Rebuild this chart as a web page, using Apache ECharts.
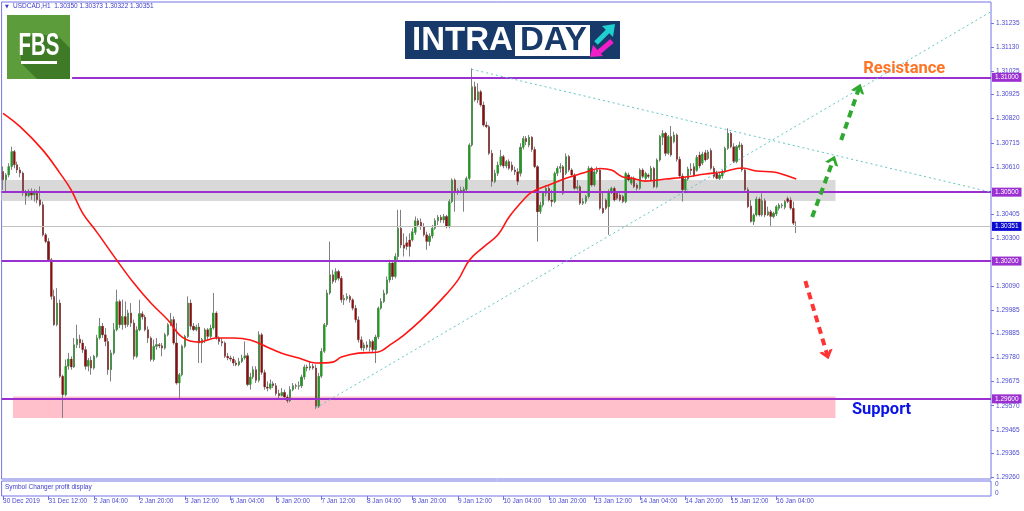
<!DOCTYPE html>
<html><head><meta charset="utf-8">
<script src="https://cdn.jsdelivr.net/npm/echarts@6/dist/echarts.min.js"></script>
<style>html,body{margin:0;padding:0;background:#fff}#c{width:1024px;height:511px}</style>
</head><body><div id="c"></div>
<script>
// ---------- data ----------
const tickLabels = ['30 Dec 2019','31 Dec 12:00','2 Jan 04:00','2 Jan 20:00','3 Jan 12:00','6 Jan 04:00','6 Jan 20:00','7 Jan 12:00','8 Jan 04:00','8 Jan 20:00','9 Jan 12:00','10 Jan 04:00','10 Jan 20:00','13 Jan 12:00','14 Jan 04:00','14 Jan 20:00','15 Jan 12:00','16 Jan 04:00'];
const barsPerLabel = 16;
const slotCount = 348;
const yTicks = [1.29260,1.29365,1.29465,1.29570,1.29675,1.29780,1.29885,1.29985,1.30090,1.30300,1.30405,1.30610,1.30715,1.30820,1.30925,1.31025,1.31130,1.31235];
const header = 'USDCAD,H1  1.30350 1.30373 1.30322 1.30351';
// [open, close, low, high]
const candles = [
[1.30590,1.30554,1.30510,1.30612],[1.30554,1.30575,1.30496,1.30583],[1.30575,1.30612,1.30565,1.30626],[1.30612,1.30677,1.30597,1.30698],
[1.30677,1.30619,1.30604,1.30684],[1.30619,1.30597,1.30583,1.30633],[1.30597,1.30583,1.30565,1.30609],[1.30583,1.30496,1.30484,1.30590],
[1.30496,1.30484,1.30445,1.30510],[1.30484,1.30503,1.30478,1.30513],[1.30503,1.30488,1.30467,1.30517],[1.30488,1.30503,1.30459,1.30513],
[1.30503,1.30467,1.30452,1.30510],[1.30467,1.30445,1.30438,1.30525],[1.30445,1.30314,1.30307,1.30459],[1.30314,1.30285,1.30278,1.30322],
[1.30285,1.30206,1.30203,1.30300],[1.30206,1.30046,1.30032,1.30213],[1.30046,1.29923,1.29918,1.30075],[1.29923,1.30017,1.29916,1.30082],
[1.30017,1.29698,1.29691,1.30032],[1.29698,1.29618,1.29517,1.29705],[1.29618,1.29742,1.29611,1.29771],[1.29742,1.29773,1.29727,1.29800],
[1.29773,1.29739,1.29727,1.29785],[1.29739,1.29836,1.29734,1.29865],[1.29836,1.29860,1.29821,1.29923],[1.29860,1.29843,1.29821,1.29879],
[1.29843,1.29814,1.29800,1.29858],[1.29814,1.29742,1.29727,1.29829],[1.29742,1.29768,1.29720,1.29778],[1.29768,1.29734,1.29705,1.29785],
[1.29734,1.29785,1.29727,1.29792],[1.29785,1.29865,1.29778,1.29879],[1.29865,1.29916,1.29858,1.29952],[1.29916,1.29879,1.29865,1.29930],
[1.29879,1.29850,1.29829,1.29908],[1.29850,1.29727,1.29705,1.29865],[1.29727,1.29800,1.29676,1.29814],[1.29800,1.29901,1.29792,1.29930],
[1.29901,1.30024,1.29894,1.30075],[1.30024,1.29923,1.29908,1.30032],[1.29923,1.29959,1.29901,1.30032],[1.29959,1.29923,1.29908,1.30024],
[1.29923,1.29974,1.29913,1.29988],[1.29974,1.29930,1.29913,1.30017],[1.29930,1.29785,1.29771,1.29945],[1.29785,1.29901,1.29778,1.29916],
[1.29901,1.29971,1.29894,1.30032],[1.29971,1.29956,1.29945,1.29981],[1.29956,1.29901,1.29894,1.29966],[1.29901,1.29865,1.29843,1.29916],
[1.29865,1.29771,1.29763,1.29872],[1.29771,1.29829,1.29763,1.29858],[1.29829,1.29836,1.29814,1.29865],[1.29836,1.29831,1.29821,1.29843],
[1.29831,1.29821,1.29785,1.29843],[1.29821,1.29879,1.29814,1.29887],[1.29879,1.29923,1.29872,1.29930],[1.29923,1.29945,1.29916,1.29974],
[1.29945,1.29843,1.29836,1.29959],[1.29843,1.29669,1.29662,1.29930],[1.29669,1.29705,1.29604,1.29713],[1.29705,1.29829,1.29698,1.29836],
[1.29829,1.29872,1.29821,1.29879],[1.29872,1.30017,1.29865,1.30046],[1.30017,1.29916,1.29901,1.30032],[1.29916,1.29901,1.29894,1.29930],
[1.29901,1.29913,1.29894,1.29923],[1.29913,1.29843,1.29756,1.29930],[1.29843,1.29858,1.29756,1.29865],[1.29858,1.29901,1.29843,1.29908],
[1.29901,1.29872,1.29858,1.29908],[1.29872,1.29908,1.29865,1.29923],[1.29908,1.29974,1.29901,1.30061],[1.29974,1.29865,1.29858,1.29981],
[1.29865,1.29850,1.29836,1.29872],[1.29850,1.29843,1.29829,1.29865],[1.29843,1.29785,1.29778,1.29850],[1.29785,1.29778,1.29768,1.29800],
[1.29778,1.29773,1.29763,1.29788],[1.29773,1.29756,1.29744,1.29785],[1.29756,1.29749,1.29742,1.29768],[1.29749,1.29763,1.29742,1.29778],
[1.29763,1.29778,1.29756,1.29792],[1.29778,1.29788,1.29771,1.29850],[1.29788,1.29662,1.29655,1.29800],[1.29662,1.29695,1.29640,1.29713],
[1.29695,1.29727,1.29686,1.29742],[1.29727,1.29681,1.29669,1.29742],[1.29681,1.29879,1.29672,1.29894],[1.29879,1.29715,1.29705,1.29887],
[1.29715,1.29652,1.29640,1.29727],[1.29652,1.29646,1.29633,1.29676],[1.29646,1.29666,1.29640,1.29684],[1.29666,1.29657,1.29647,1.29676],
[1.29657,1.29623,1.29614,1.29669],[1.29623,1.29614,1.29599,1.29640],[1.29614,1.29628,1.29611,1.29647],[1.29628,1.29608,1.29597,1.29640],
[1.29608,1.29592,1.29582,1.29618],[1.29592,1.29640,1.29585,1.29655],[1.29640,1.29657,1.29633,1.29669],[1.29657,1.29655,1.29643,1.29666],
[1.29655,1.29657,1.29640,1.29676],[1.29657,1.29695,1.29647,1.29705],[1.29695,1.29739,1.29684,1.29749],[1.29739,1.29734,1.29720,1.29749],
[1.29734,1.29742,1.29724,1.29763],[1.29742,1.29734,1.29727,1.29753],[1.29734,1.29568,1.29556,1.29749],[1.29568,1.29698,1.29560,1.29713],
[1.29698,1.29807,1.29691,1.29821],[1.29807,1.29923,1.29800,1.29930],[1.29923,1.30061,1.29913,1.30075],[1.30061,1.30140,1.30053,1.30285],
[1.30140,1.30111,1.30101,1.30162],[1.30118,1.30154,1.30106,1.30169],[1.30154,1.30125,1.30115,1.30162],[1.30125,1.30031,1.30019,1.30135],
[1.30031,1.30037,1.30009,1.30053],[1.30037,1.30046,1.30028,1.30060],[1.30046,1.30031,1.30019,1.30053],[1.30031,1.29995,1.29985,1.30038],
[1.29995,1.29944,1.29932,1.30009],[1.29944,1.29857,1.29845,1.29959],[1.29857,1.29821,1.29811,1.29872],[1.29821,1.29835,1.29806,1.29845],
[1.29835,1.29825,1.29814,1.29850],[1.29825,1.29850,1.29806,1.29860],[1.29850,1.29814,1.29799,1.29857],[1.29814,1.29869,1.29756,1.29879],
[1.29869,1.29995,1.29860,1.30002],[1.29995,1.30024,1.29988,1.30038],[1.30024,1.30060,1.30017,1.30075],[1.30060,1.30118,1.30053,1.30133],
[1.30118,1.30191,1.30106,1.30205],[1.30191,1.30133,1.30118,1.30205],[1.30133,1.30220,1.30125,1.30234],[1.30220,1.30343,1.30205,1.30423],
[1.30343,1.30270,1.30256,1.30423],[1.30270,1.30256,1.30220,1.30321],[1.30280,1.30263,1.30249,1.30307],[1.30292,1.30263,1.30220,1.30321],
[1.30292,1.30328,1.30285,1.30343],[1.30324,1.30376,1.30314,1.30394],[1.30376,1.30357,1.30350,1.30386],[1.30369,1.30350,1.30336,1.30386],
[1.30350,1.30314,1.30307,1.30365],[1.30314,1.30285,1.30249,1.30328],[1.30285,1.30309,1.30266,1.30321],[1.30309,1.30343,1.30299,1.30357],
[1.30343,1.30376,1.30336,1.30386],[1.30376,1.30391,1.30357,1.30401],[1.30391,1.30379,1.30367,1.30401],[1.30379,1.30394,1.30365,1.30405],
[1.30394,1.30350,1.30343,1.30401],[1.30350,1.30459,1.30343,1.30469],[1.30459,1.30553,1.30452,1.30560],[1.30553,1.30502,1.30415,1.30560],
[1.30502,1.30507,1.30488,1.30517],[1.30507,1.30502,1.30495,1.30524],[1.30502,1.30512,1.30415,1.30524],[1.30512,1.30560,1.30502,1.30568],
[1.30560,1.30705,1.30553,1.30713],[1.30705,1.30959,1.30698,1.31039],[1.30959,1.30901,1.30894,1.30981],[1.30901,1.30937,1.30887,1.30974],
[1.30937,1.30879,1.30872,1.30945],[1.30879,1.30792,1.30785,1.30894],[1.30792,1.30785,1.30778,1.30807],[1.30785,1.30669,1.30662,1.30792],
[1.30669,1.30546,1.30524,1.30684],[1.30546,1.30582,1.30539,1.30597],[1.30582,1.30618,1.30570,1.30633],[1.30618,1.30655,1.30611,1.30684],
[1.30655,1.30614,1.30604,1.30662],[1.30614,1.30633,1.30604,1.30640],[1.30633,1.30604,1.30597,1.30643],[1.30618,1.30597,1.30589,1.30633],
[1.30597,1.30589,1.30575,1.30611],[1.30589,1.30546,1.30531,1.30604],[1.30582,1.30695,1.30568,1.30713],[1.30695,1.30734,1.30686,1.30744],
[1.30734,1.30720,1.30705,1.30744],[1.30705,1.30739,1.30695,1.30749],[1.30739,1.30686,1.30676,1.30744],[1.30686,1.30611,1.30604,1.30698],
[1.30611,1.30415,1.30285,1.30618],[1.30415,1.30444,1.30405,1.30459],[1.30444,1.30495,1.30434,1.30502],[1.30495,1.30517,1.30481,1.30531],
[1.30517,1.30466,1.30459,1.30527],[1.30466,1.30459,1.30437,1.30510],[1.30459,1.30582,1.30452,1.30589],[1.30582,1.30604,1.30570,1.30614],
[1.30604,1.30611,1.30585,1.30626],[1.30611,1.30495,1.30488,1.30618],[1.30582,1.30655,1.30575,1.30669],[1.30655,1.30597,1.30589,1.30662],
[1.30597,1.30575,1.30565,1.30604],[1.30575,1.30517,1.30510,1.30582],[1.30517,1.30524,1.30507,1.30553],[1.30524,1.30452,1.30444,1.30531],
[1.30452,1.30459,1.30444,1.30473],[1.30459,1.30481,1.30449,1.30488],[1.30481,1.30604,1.30473,1.30614],[1.30604,1.30531,1.30524,1.30611],
[1.30531,1.30589,1.30524,1.30597],[1.30589,1.30597,1.30579,1.30611],[1.30597,1.30430,1.30423,1.30604],[1.30430,1.30411,1.30405,1.30502],
[1.30466,1.30430,1.30423,1.30473],[1.30437,1.30502,1.30314,1.30512],[1.30502,1.30517,1.30492,1.30524],[1.30517,1.30466,1.30459,1.30524],
[1.30495,1.30473,1.30466,1.30502],[1.30488,1.30466,1.30459,1.30495],[1.30481,1.30459,1.30452,1.30488],[1.30459,1.30582,1.30452,1.30589],
[1.30575,1.30553,1.30546,1.30585],[1.30539,1.30560,1.30531,1.30568],[1.30560,1.30524,1.30517,1.30568],[1.30531,1.30517,1.30507,1.30539],
[1.30517,1.30597,1.30510,1.30604],[1.30597,1.30568,1.30560,1.30604],[1.30560,1.30582,1.30553,1.30589],[1.30575,1.30568,1.30560,1.30582],
[1.30553,1.30604,1.30546,1.30614],[1.30604,1.30524,1.30517,1.30611],[1.30524,1.30640,1.30517,1.30647],[1.30640,1.30742,1.30633,1.30749],
[1.30739,1.30756,1.30705,1.30771],[1.30756,1.30669,1.30657,1.30763],[1.30669,1.30742,1.30662,1.30749],[1.30742,1.30662,1.30655,1.30788],
[1.30720,1.30749,1.30713,1.30763],[1.30749,1.30643,1.30633,1.30756],[1.30643,1.30570,1.30560,1.30655],[1.30570,1.30510,1.30459,1.30582],
[1.30510,1.30557,1.30495,1.30568],[1.30557,1.30601,1.30550,1.30611],[1.30601,1.30594,1.30575,1.30626],[1.30611,1.30575,1.30568,1.30626],
[1.30594,1.30652,1.30589,1.30662],[1.30662,1.30614,1.30604,1.30676],[1.30626,1.30666,1.30618,1.30676],[1.30672,1.30640,1.30633,1.30684],
[1.30647,1.30675,1.30640,1.30684],[1.30681,1.30604,1.30597,1.30691],[1.30604,1.30568,1.30560,1.30614],[1.30585,1.30560,1.30556,1.30594],
[1.30560,1.30575,1.30553,1.30585],[1.30570,1.30589,1.30560,1.30597],[1.30589,1.30691,1.30582,1.30698],[1.30691,1.30756,1.30684,1.30778],
[1.30756,1.30698,1.30691,1.30763],[1.30698,1.30633,1.30626,1.30713],[1.30633,1.30698,1.30626,1.30705],[1.30695,1.30705,1.30684,1.30720],
[1.30705,1.30597,1.30589,1.30713],[1.30597,1.30510,1.30502,1.30604],[1.30510,1.30437,1.30430,1.30521],[1.30440,1.30372,1.30367,1.30466],
[1.30372,1.30401,1.30357,1.30408],[1.30401,1.30470,1.30394,1.30481],[1.30470,1.30401,1.30394,1.30478],[1.30401,1.30463,1.30394,1.30495],
[1.30463,1.30401,1.30391,1.30473],[1.30401,1.30415,1.30396,1.30437],[1.30415,1.30394,1.30353,1.30423],[1.30394,1.30408,1.30386,1.30415],
[1.30405,1.30437,1.30396,1.30444],[1.30430,1.30444,1.30420,1.30452],[1.30440,1.30443,1.30430,1.30452],[1.30434,1.30459,1.30425,1.30466],
[1.30472,1.30459,1.30452,1.30481],[1.30466,1.30430,1.30423,1.30478],[1.30430,1.30365,1.30357,1.30459],[1.30350,1.30351,1.30322,1.30373]
];
// moving average read at bar positions: [bar index, price]
const maPoints = [[0,1.30843],[6,1.30785],[14,1.30683],[20,1.30583],[24,1.30509],[28,1.30409],[33,1.30326],[40,1.30204],[46,1.30104],[52,1.30017],[58,1.29943],[63,1.29869],[69,1.29847],[75,1.29865],[81,1.29865],[87,1.29856],[93,1.29825],[98,1.29799],[104,1.29778],[110,1.29756],[116,1.29760],[119,1.29782],[125,1.29799],[132,1.29804],[136,1.29834],[141,1.29878],[147,1.29943],[154,1.30030],[160,1.30117],[164,1.30204],[169,1.30261],[174,1.30313],[178,1.30392],[183,1.30466],[186,1.30500],[192,1.30531],[198,1.30561],[204,1.30583],[210,1.30603],[214,1.30596],[218,1.30566],[221,1.30561],[226,1.30548],[233,1.30557],[240,1.30566],[247,1.30579],[253,1.30588],[260,1.30605],[265,1.30592],[271,1.30588],[275,1.30575],[279,1.30557]];
const resistanceLevel = 1.31000, pivotLevel = 1.30500, midLevel = 1.30200, supportLevel = 1.29600, lastPrice = 1.30351;
const grayZone = [1.30461, 1.30553];
const supportZone = [1.29517, 1.29610];
const trendDown = [[164.8, 1.31035], [347.5, 1.30500]];
const trendUp = [[110, 1.29560], [347.5, 1.31286]];
const arrowUp1 = [[284.6, 1.30392], [292.0, 1.30640]];
const arrowUp2 = [[294.8, 1.30727], [301.1, 1.30953]];
const arrowDown = [[282.2, 1.30113], [289.9, 1.29791]];
const textMarks = [{name:'Resistance', at:[317, 1.31036]}, {name:'Support', at:[309, 1.29551]}];

// ---------- chart ----------
const FONT = '"Liberation Sans", Arial, sans-serif';
const AXC = '#4a4ad0';
const BORDER = '#7474e6';
const PURPLE = '#9b30d0';
const categories = Array.from({length: slotCount}, (_, i) => String(i));
const isTick = (i) => i % barsPerLabel === 0 && (i / barsPerLabel) < tickLabels.length;
const CHEVRON = 'path://M0,10 L10,0 L20,10 L15,10 L10,5 L5,10 Z';
const xLeft = -0.5, xRight = slotCount - 0.5;

function levelLabel(text, bg) {
  return {show:true, position:'end', distance:1, formatter:text, color:'#ffffff', backgroundColor:bg,
          padding:[1,3,1,3], fontSize:6.5, fontFamily:FONT};
}
function hLine(value, from, label, lineStyle) {
  return [{coord:[from, value], label:label, lineStyle:lineStyle}, {coord:[xRight, value]}];
}
function arrowSeries(pts, color, rot) {
  return {type:'line', xAxisIndex:1, yAxisIndex:0, z:8, silent:true, showSymbol:true,
    lineStyle:{color:color, width:4, type:[7,5]}, itemStyle:{color:color},
    data:[{value:pts[0], symbol:'none'}, {value:pts[1], symbol:CHEVRON, symbolSize:[14,9], symbolRotate:rot}]};
}
const textStyleFor = (color) => ({show:true, position:'inside', color:color, fontSize:16.5, fontWeight:'bold',
  fontFamily:'Roboto, "Liberation Sans", sans-serif'});
const purpleStyle = {color:PURPLE, width:2, type:'solid'};

const chart = echarts.init(document.getElementById('c'));
chart.setOption({
  animation:false,
  backgroundColor:'#ffffff',
  grid:[
    {left:1.6, right:33, top:2, bottom:32, show:true, borderColor:BORDER, borderWidth:1},
    {left:1.6, right:33, top:481, height:15, show:true, borderColor:BORDER, borderWidth:1}
  ],
  xAxis:[
    {type:'category', gridIndex:0, data:categories, boundaryGap:true, axisLine:{show:false, onZero:false}, axisTick:{show:false}, axisLabel:{show:false}, splitLine:{show:false}},
    {type:'value', gridIndex:0, min:xLeft, max:xRight, show:false, axisLine:{onZero:false}},
    {type:'category', gridIndex:1, data:categories, boundaryGap:true, position:'bottom',
     axisLine:{show:false, onZero:false}, splitLine:{show:false},
     axisTick:{show:true, alignWithLabel:true, interval:isTick, length:4, lineStyle:{color:BORDER}},
     axisLabel:{interval:isTick, formatter:(v)=>tickLabels[Number(v)/barsPerLabel] || '', align:'left', margin:2,
                fontSize:6.5, color:AXC, fontFamily:FONT}}
  ],
  yAxis:[
    {type:'value', gridIndex:0, position:'right', min:1.29251, max:1.31328, splitLine:{show:false},
     axisLine:{show:false, onZero:false},
     axisTick:{show:true, inside:false, customValues:yTicks, length:3, lineStyle:{color:BORDER}},
     axisLabel:{customValues:yTicks, formatter:(v)=>v.toFixed(5), margin:5, fontSize:6.5, color:AXC, fontFamily:FONT}},
    {type:'value', gridIndex:1, position:'right', min:0, max:1, splitLine:{show:false}, axisLine:{show:false, onZero:false}, axisTick:{show:false},
     axisLabel:{customValues:[0.2,0.8], formatter:()=> '0', margin:4, fontSize:6.5, color:AXC, fontFamily:FONT, hideOverlap:false}}
  ],
  series:[
    {type:'line', xAxisIndex:1, yAxisIndex:0, data:[], z:1, silent:true, clip:false,
     markArea:{silent:true, itemStyle:{opacity:1},
       data:[
         [{coord:[xLeft, grayZone[1]], itemStyle:{color:'#d9d9d9'}}, {coord:[292.8, grayZone[0]]}],
         [{coord:[3.5, supportZone[1]], itemStyle:{color:'#ffc0cb'}}, {coord:[292.8, supportZone[0]]}]
       ]},
     markLine:{silent:true, symbol:'none', animation:false,
       data:[hLine(lastPrice, xLeft, levelLabel(lastPrice.toFixed(5), '#0a0ad0'), {color:'#c0c0c0', width:1, type:'solid'})]}
    },
    {type:'candlestick', name:'wick', xAxisIndex:0, yAxisIndex:0, data:candles, barWidth:1.6, z:3, silent:true,
     itemStyle:{color:'#808080', color0:'#808080', borderColor:'#808080', borderColor0:'#808080', borderColorDoji:'#808080', borderWidth:1}},
    {type:'candlestick', name:'body', xAxisIndex:0, yAxisIndex:0, data:candles, barWidth:2, z:4, silent:true,
     itemStyle:{color:'#1c9c1c', color0:'#900c0c', borderColor:'#1c9c1c', borderColor0:'#900c0c', borderWidth:0}},
    {type:'line', name:'MA', xAxisIndex:1, yAxisIndex:0, data:maPoints, smooth:0.4, showSymbol:false, z:5, silent:true,
     lineStyle:{color:'#ff1414', width:1.6}},
    {type:'line', xAxisIndex:1, yAxisIndex:0, data:trendDown, showSymbol:false, z:5, silent:true,
     lineStyle:{color:'#64c4c4', width:1, type:[2,3]},
     markPoint:{silent:true, symbol:'circle', symbolSize:1, itemStyle:{color:'rgba(255,255,255,0)', opacity:1},
       data:[
         {coord:textMarks[0].at, label:Object.assign(textStyleFor('#ff7424'), {formatter:textMarks[0].name})},
         {coord:textMarks[1].at, label:Object.assign(textStyleFor('#0a14e6'), {formatter:textMarks[1].name})}
       ]}},
    {type:'line', xAxisIndex:1, yAxisIndex:0, data:trendUp, showSymbol:false, z:5, silent:true,
     lineStyle:{color:'#64c4c4', width:1, type:[2,3]}},
    {type:'line', xAxisIndex:1, yAxisIndex:0, data:[], z:6, silent:true, clip:false,
     markLine:{silent:true, symbol:'none', animation:false, lineStyle:purpleStyle,
       data:[
         hLine(resistanceLevel, 24.3, levelLabel(resistanceLevel.toFixed(5), PURPLE), purpleStyle),
         hLine(pivotLevel, xLeft, levelLabel(pivotLevel.toFixed(5), PURPLE), purpleStyle),
         hLine(midLevel, xLeft, levelLabel(midLevel.toFixed(5), PURPLE), purpleStyle),
         hLine(supportLevel, xLeft, levelLabel(supportLevel.toFixed(5), PURPLE), purpleStyle)
       ]}},
    arrowSeries(arrowUp1, '#2fa82f', -20),
    arrowSeries(arrowUp2, '#2fa82f', -19),
    arrowSeries(arrowDown, '#ff3333', -163)
  ],
  graphic:[
    {type:'text', left:5, top:4, z:20, style:{text:'\u25BC', fill:'#3a3ac8', font:'5px "DejaVu Sans"'}},
    {type:'text', left:13, top:3, z:20, style:{text:header, fill:'#3a3ac8', font:'6.5px ' + FONT}},
    {type:'text', left:5, top:484, z:20, style:{text:'Symbol Changer profit display', fill:'#3a3ac8', font:'6.5px ' + FONT}},
    // FBS logo
    {type:'group', x:7, y:15, z:20, children:[
      {type:'rect', shape:{x:0, y:0, width:63, height:64}, style:{fill:'#5d9c3b'}},
      {type:'polygon', shape:{points:[[14,20],[50,20],[63,33],[63,64],[30,64],[14,48]]}, style:{fill:'#3f7a27'}},
      {type:'text', x:32, y:31.5, scaleX:0.64, style:{text:'FBS', x:0, y:0, align:'center', verticalAlign:'middle', fill:'#ffffff', font:'bold 32px "Liberation Sans"'}},
      {type:'rect', shape:{x:14, y:46, width:36, height:3}, style:{fill:'#ffffff'}}
    ]},
    // INTRADAY logo
    {type:'group', x:405, y:21, z:20, children:[
      {type:'rect', shape:{x:0, y:0, width:215, height:38}, style:{fill:'#173a6a'}},
      {type:'rect', shape:{x:110, y:4, width:75, height:31}, style:{fill:'#ffffff'}},
      {type:'text', x:7, y:19.5, style:{text:'INTRA', x:0, y:0, verticalAlign:'middle', fill:'#ffffff', font:'bold 33px "Liberation Sans"'}},
      {type:'text', x:115, y:19.5, style:{text:'DAY', x:0, y:0, verticalAlign:'middle', fill:'#173a6a', font:'bold 33px "Liberation Sans"'}},
      {type:'line', shape:{x1:191, y1:22, x2:203, y2:10}, style:{stroke:'#1fd0d0', lineWidth:5}},
      {type:'polygon', shape:{points:[[210,3],[197,5],[208,16]]}, style:{fill:'#1fd0d0'}},
      {type:'line', shape:{x1:207, y1:20, x2:194, y2:31}, style:{stroke:'#f21fc8', lineWidth:5}},
      {type:'polygon', shape:{points:[[185,36],[198,35],[188,24]]}, style:{fill:'#f21fc8'}}
    ]}
  ]
});
</script>
</body></html>
